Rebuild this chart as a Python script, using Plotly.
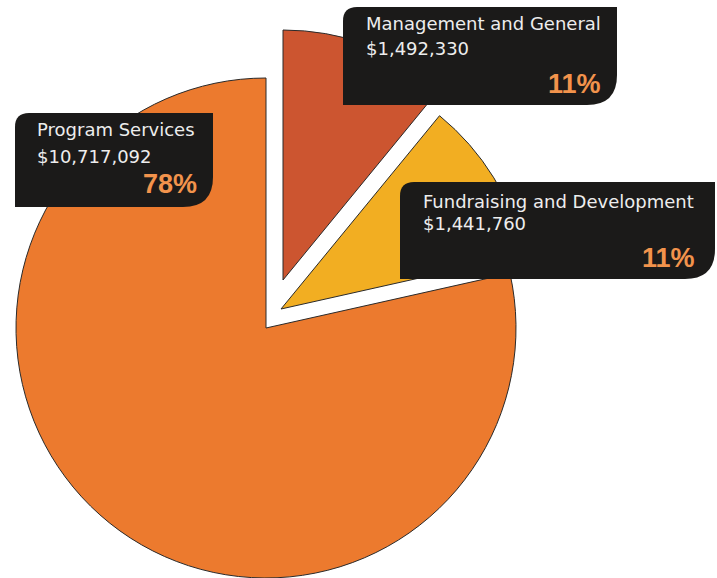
import plotly.graph_objects as go

# Expense allocation by functional category
categories = ["Management and General", "Fundraising and Development", "Program Services"]
amounts = [1492330, 1441760, 10717092]
amount_labels = ["$1,492,330", "$1,441,760", "$10,717,092"]
percent_labels = ["11%", "11%", "78%"]

slice_colors = ["#CC5530", "#F2AE22", "#EC7A2E"]
outline_color = "#2a2a2a"

W, H = 717, 578
R = 250  # pie radius in px

# apex (pie centre) of each wedge in px; the two small wedges are pulled out
apex = {
    "Program Services": (266, 328),
    "Management and General": (283, 280),
    "Fundraising and Development": (281, 309),
}


def px_x(x):
    return x / W


def px_y(y):
    return 1 - y / H


fig = go.Figure()

# One pie per category: the same values, only the owned wedge is painted,
# so each wedge can be offset from the others without shrinking the radius.
for i, cat in enumerate(categories):
    cx, cy = apex[cat]
    colors = [slice_colors[j] if j == i else "rgba(0,0,0,0)" for j in range(len(categories))]
    widths = [1 if j == i else 0 for j in range(len(categories))]
    fig.add_trace(go.Pie(
        labels=categories,
        values=amounts,
        sort=False,
        direction="clockwise",
        rotation=0,
        textinfo="none",
        hoverinfo="label+value+percent",
        marker=dict(colors=colors, line=dict(color=outline_color, width=widths)),
        domain=dict(x=[px_x(cx - R), px_x(cx + R)], y=[px_y(cy + R), px_y(cy - R)]),
        showlegend=False,
    ))


def callout_path(l, t, r, b, r_tl, r_br):
    """Black label panel: rounded top-left and bottom-right corners."""
    return (
        f"M {px_x(l)},{px_y(t + r_tl)} "
        f"Q {px_x(l)},{px_y(t)} {px_x(l + r_tl)},{px_y(t)} "
        f"L {px_x(r)},{px_y(t)} "
        f"L {px_x(r)},{px_y(b - r_br)} "
        f"Q {px_x(r)},{px_y(b)} {px_x(r - r_br)},{px_y(b)} "
        f"L {px_x(l)},{px_y(b)} Z"
    )


# panel box (l, t, r, b), text left x, line centres, percent right x and centre
callouts = {
    "Management and General": dict(box=(343, 7, 617, 105), tx=364, y1=24, y2=48.5, px=603, py=84),
    "Program Services": dict(box=(15, 113, 213, 207), tx=35, y1=129.5, y2=156.5, px=199, py=183.5),
    "Fundraising and Development": dict(box=(400, 182, 715, 279), tx=421, y1=201, y2=224, px=697, py=257.5),
}

label_font = dict(family="DejaVu Sans", size=18, color="#EDEDED")
pct_font = dict(family="Liberation Sans", size=27, color="#F2934C")

shapes = []
annotations = []
for i, cat in enumerate(categories):
    c = callouts[cat]
    l, t, r, b = c["box"]
    shapes.append(dict(
        type="path", xref="paper", yref="paper",
        path=callout_path(l, t, r, b, 14, 30),
        fillcolor="#1b1a19", line=dict(width=0), layer="above",
    ))
    annotations.append(dict(
        text=cat, x=px_x(c["tx"]), y=px_y(c["y1"]), xref="paper", yref="paper",
        xanchor="left", yanchor="middle", showarrow=False, font=label_font,
    ))
    annotations.append(dict(
        text=amount_labels[i], x=px_x(c["tx"]), y=px_y(c["y2"]), xref="paper", yref="paper",
        xanchor="left", yanchor="middle", showarrow=False, font=label_font,
    ))
    annotations.append(dict(
        text=f"<b>{percent_labels[i]}</b>", x=px_x(c["px"]), y=px_y(c["py"]),
        xref="paper", yref="paper", xanchor="right", yanchor="middle",
        showarrow=False, font=pct_font,
    ))

fig.update_layout(
    width=W, height=H,
    margin=dict(l=0, r=0, t=0, b=0),
    paper_bgcolor="white",
    plot_bgcolor="white",
    shapes=shapes,
    annotations=annotations,
)

fig.write_html("out.html")
